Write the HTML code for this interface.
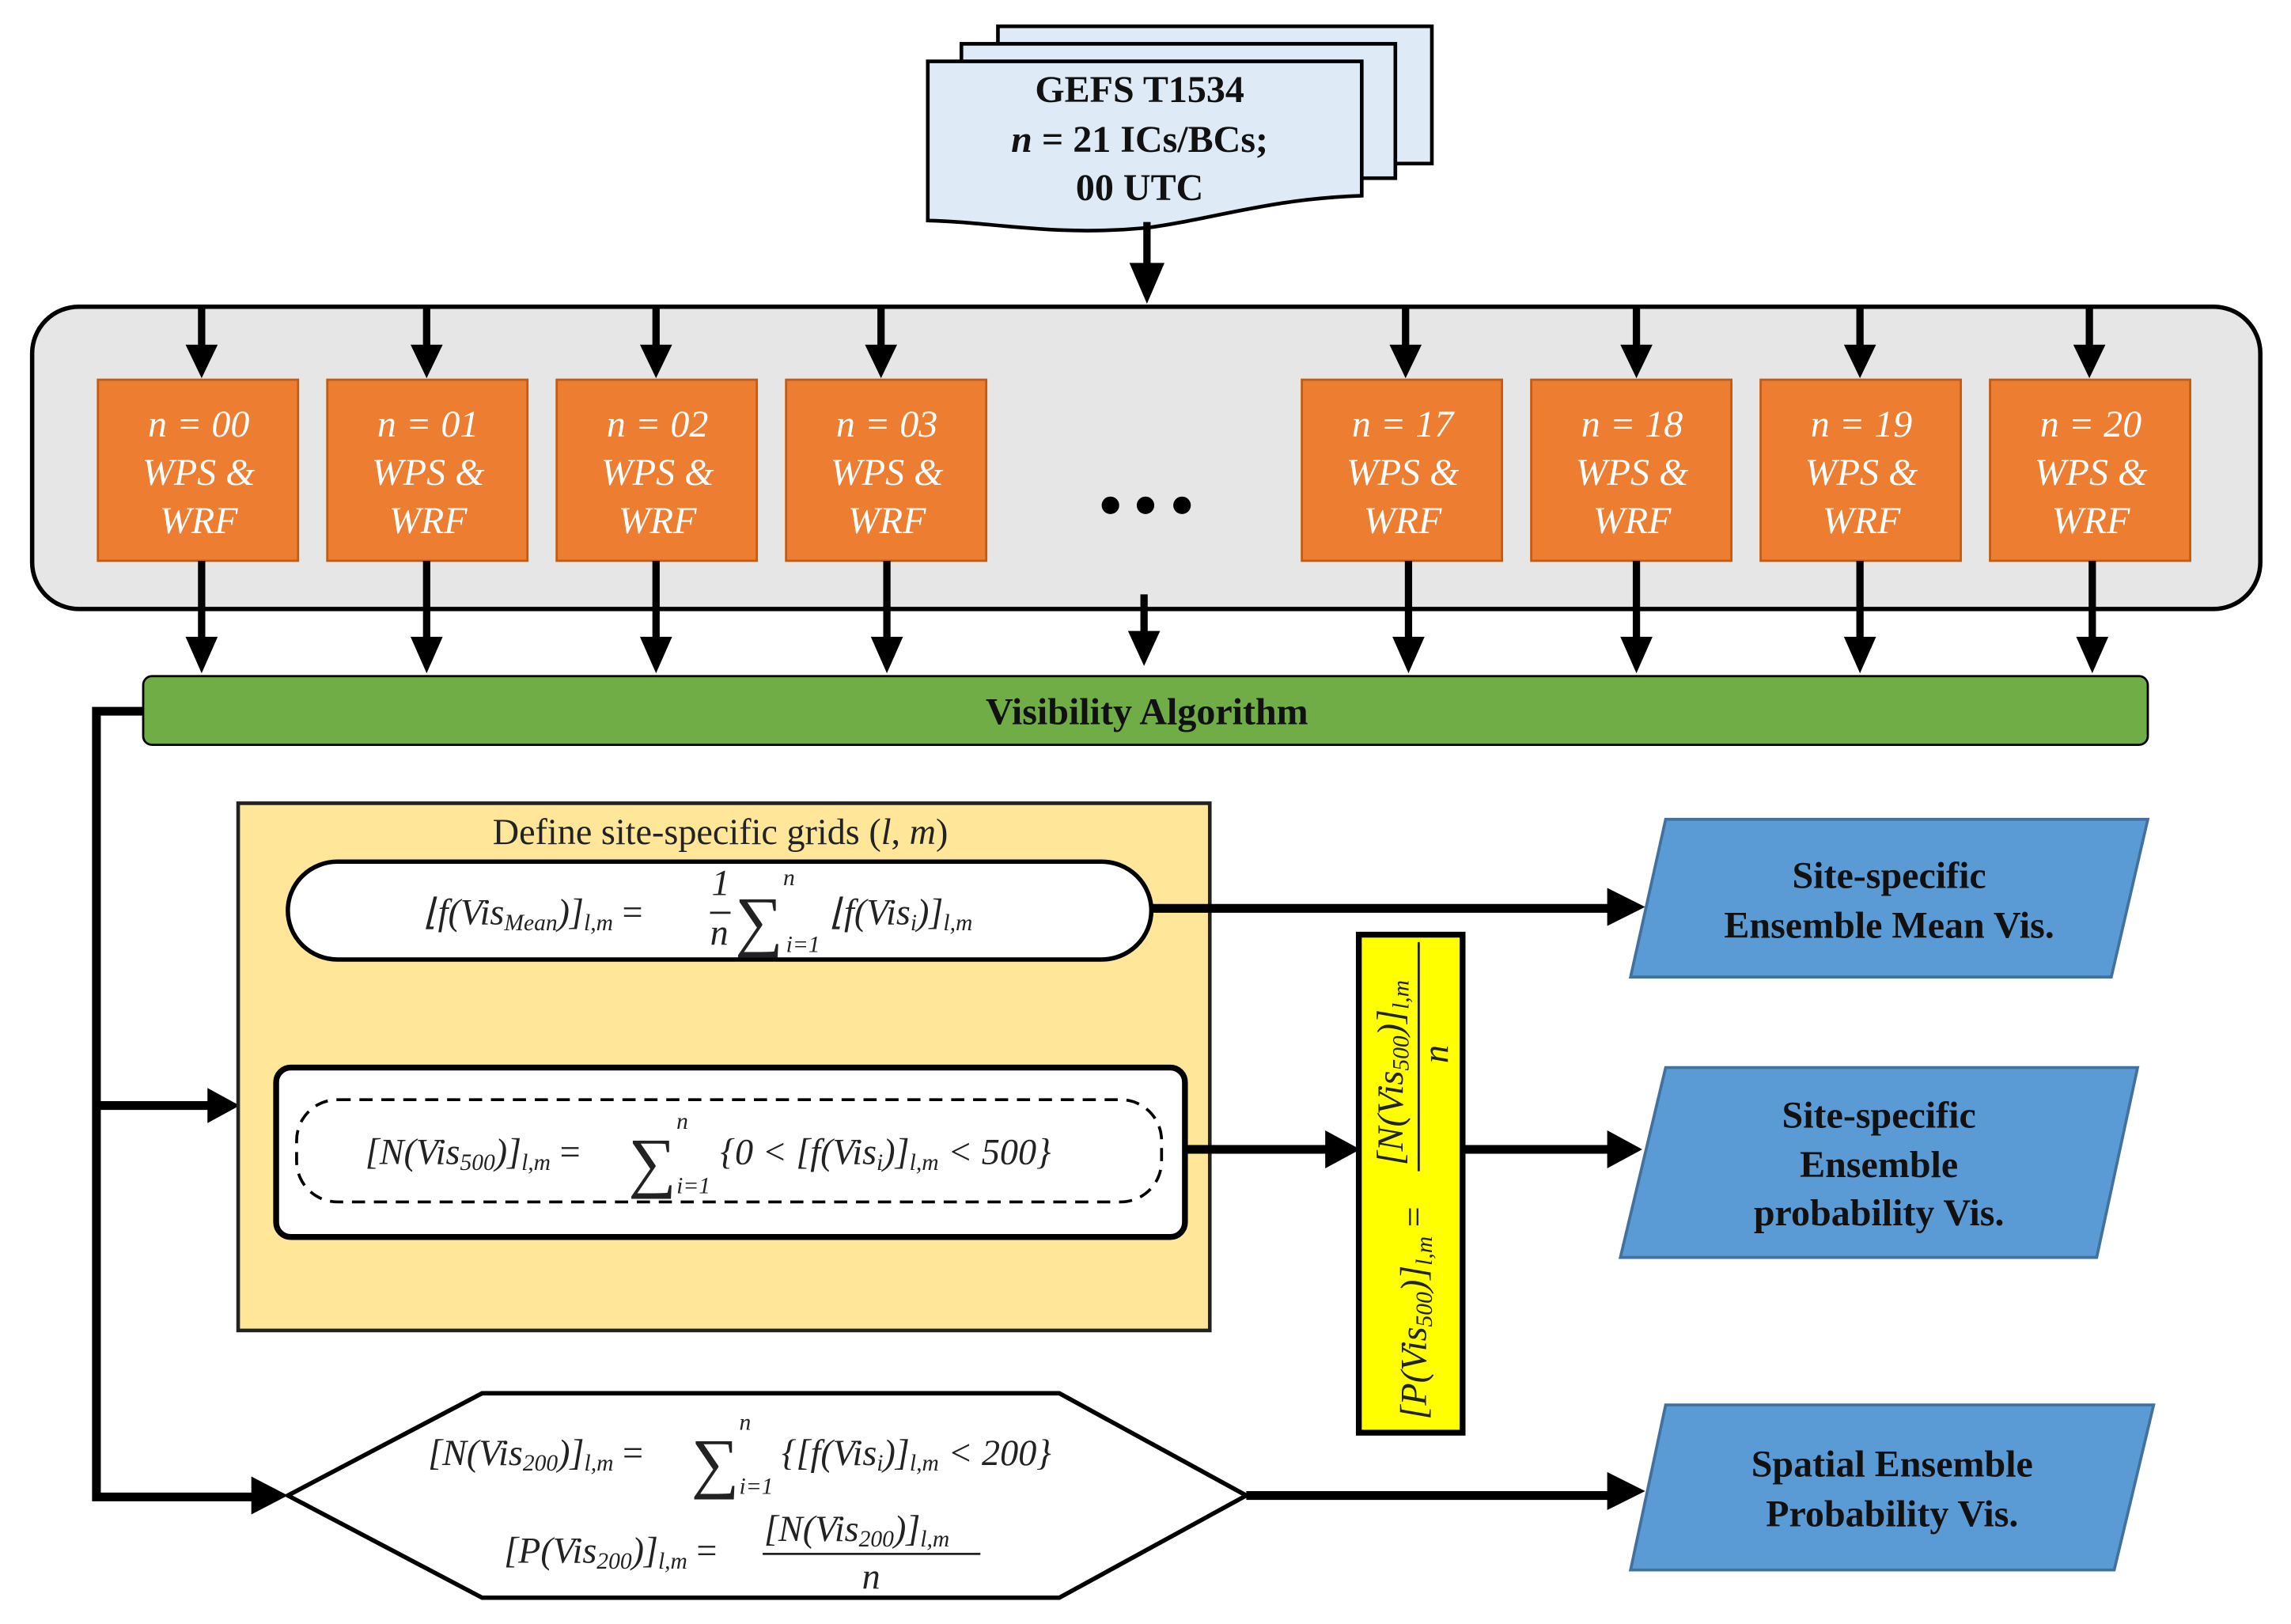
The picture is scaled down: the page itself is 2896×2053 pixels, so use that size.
<!DOCTYPE html>
<html><head><meta charset="utf-8"><style>
html,body{margin:0;padding:0;background:#fff;}
svg{display:block;}
text{font-family:"Liberation Serif",serif;}
.m{font-style:italic;font-size:25px;fill:#222;}
.s{font-size:16px;}
</style></head><body>
<svg width="2896" height="2053" viewBox="0 0 1568 1112" preserveAspectRatio="none" xmlns="http://www.w3.org/2000/svg">
<rect x="683" y="18" width="297" height="94" fill="#deebf7" stroke="#000" stroke-width="2.5"/>
<rect x="658" y="30" width="297" height="92" fill="#deebf7" stroke="#000" stroke-width="2.5"/>
<path d="M635,42 L932,42 L932,134 C870,136 830,150 785,156 C720,162 680,152 635,151 Z" fill="#deebf7" stroke="#000" stroke-width="2.5"/>
<g font-weight="bold" font-size="26" text-anchor="middle" fill="#111">
<text x="780" y="70">GEFS T1534</text>
<text x="780" y="104"><tspan font-style="italic">n</tspan> = 21 ICs/BCs;</text>
<text x="780" y="137">00 UTC</text>
</g>
<rect x="22" y="210" width="1525" height="207" rx="32" fill="#e7e6e6" stroke="#000" stroke-width="3"/>
<g stroke="#000" stroke-width="5">
<line x1="785" y1="152" x2="785" y2="190"/>
</g>
<path d="M773,180 L797,180 L785,208 Z" fill="#000"/>
<g fill="#ed7d31" stroke="#c55a11" stroke-width="1.5">
<rect x="67" y="260" width="137" height="124"/><rect x="224" y="260" width="137" height="124"/>
<rect x="381" y="260" width="137" height="124"/><rect x="538" y="260" width="137" height="124"/>
<rect x="891" y="260" width="137" height="124"/><rect x="1048" y="260" width="137" height="124"/>
<rect x="1205" y="260" width="137" height="124"/><rect x="1362" y="260" width="137" height="124"/>
</g>
<g fill="#fff" font-style="italic" font-size="26" text-anchor="middle">
<text x="136" y="299">n = 00</text><text x="136" y="332">WPS &amp;</text><text x="136" y="365">WRF</text>
<text x="293" y="299">n = 01</text><text x="293" y="332">WPS &amp;</text><text x="293" y="365">WRF</text>
<text x="450" y="299">n = 02</text><text x="450" y="332">WPS &amp;</text><text x="450" y="365">WRF</text>
<text x="607" y="299">n = 03</text><text x="607" y="332">WPS &amp;</text><text x="607" y="365">WRF</text>
<text x="960" y="299">n = 17</text><text x="960" y="332">WPS &amp;</text><text x="960" y="365">WRF</text>
<text x="1117" y="299">n = 18</text><text x="1117" y="332">WPS &amp;</text><text x="1117" y="365">WRF</text>
<text x="1274" y="299">n = 19</text><text x="1274" y="332">WPS &amp;</text><text x="1274" y="365">WRF</text>
<text x="1431" y="299">n = 20</text><text x="1431" y="332">WPS &amp;</text><text x="1431" y="365">WRF</text>
</g>
<circle cx="760" cy="346" r="6" fill="#000"/><circle cx="784" cy="346" r="6" fill="#000"/><circle cx="809" cy="346" r="6" fill="#000"/>
<g stroke="#000" stroke-width="5">
<line x1="138" y1="210" x2="138" y2="240"/><line x1="292" y1="210" x2="292" y2="240"/>
<line x1="449" y1="210" x2="449" y2="240"/><line x1="603" y1="210" x2="603" y2="240"/>
<line x1="962" y1="210" x2="962" y2="240"/><line x1="1120" y1="210" x2="1120" y2="240"/>
<line x1="1273" y1="210" x2="1273" y2="240"/><line x1="1430" y1="210" x2="1430" y2="240"/>
<line x1="138" y1="384" x2="138" y2="440"/><line x1="292" y1="384" x2="292" y2="440"/>
<line x1="449" y1="384" x2="449" y2="440"/><line x1="607" y1="384" x2="607" y2="440"/>
<line x1="783" y1="407" x2="783" y2="436"/>
<line x1="964" y1="384" x2="964" y2="440"/><line x1="1120" y1="384" x2="1120" y2="440"/>
<line x1="1273" y1="384" x2="1273" y2="440"/><line x1="1432" y1="384" x2="1432" y2="440"/>
</g>
<g fill="#000">
<path d="M127,236 h22 l-11,23z"/><path d="M281,236 h22 l-11,23z"/><path d="M438,236 h22 l-11,23z"/><path d="M592,236 h22 l-11,23z"/>
<path d="M951,236 h22 l-11,23z"/><path d="M1109,236 h22 l-11,23z"/><path d="M1262,236 h22 l-11,23z"/><path d="M1419,236 h22 l-11,23z"/>
<path d="M127,436 h22 l-11,25z"/><path d="M281,436 h22 l-11,25z"/><path d="M438,436 h22 l-11,25z"/><path d="M596,436 h22 l-11,25z"/>
<path d="M772,432 h22 l-11,24z"/>
<path d="M953,436 h22 l-11,25z"/><path d="M1109,436 h22 l-11,25z"/><path d="M1262,436 h22 l-11,25z"/><path d="M1421,436 h22 l-11,25z"/>
</g>
<rect x="98" y="463" width="1372" height="47" rx="6" fill="#70ad47" stroke="#000" stroke-width="1.5"/>
<text x="785" y="496" text-anchor="middle" font-weight="bold" font-size="26" fill="#111">Visibility Algorithm</text>
<path d="M98,487 H66 V1025 H180 M66,757 H150" stroke="#000" stroke-width="6" fill="none"/>
<path d="M142,745 L164,757 L142,769Z" fill="#000"/>
<path d="M172,1011 L197,1024 L172,1037Z" fill="#000"/>
<rect x="163" y="550" width="665" height="361" fill="#ffe699" stroke="#222" stroke-width="2.5"/>
<text x="493" y="578" text-anchor="middle" font-size="25" fill="#222">Define site-specific grids (<tspan font-style="italic">l</tspan>, <tspan font-style="italic">m</tspan>)</text>
<rect x="197" y="590" width="591" height="67" rx="34" fill="#fff" stroke="#000" stroke-width="3"/>
<text class="m" x="290" y="633">⌊f(Vis<tspan class="s" dy="4">Mean</tspan><tspan dy="-4">)]</tspan><tspan class="s" dy="4">l,m</tspan><tspan dy="-4" font-style="normal"> = </tspan></text>
<text class="m" x="487" y="613" font-style="normal">1</text>
<line x1="486" y1="625" x2="500" y2="625" stroke="#222" stroke-width="1.5"/>
<text class="m" x="486" y="647">n</text>
<text x="503" y="646" font-size="46" fill="#222">∑</text>
<text class="m s" x="536" y="606">n</text>
<text class="m s" x="538" y="652">i=1</text>
<text class="m" x="568" y="633">⌊f(Vis<tspan class="s" dy="4">i</tspan><tspan dy="-4">)]</tspan><tspan class="s" dy="4">l,m</tspan></text>
<rect x="189" y="731" width="622" height="116" rx="10" fill="#fff" stroke="#000" stroke-width="4"/>
<rect x="203" y="753" width="592" height="70" rx="28" fill="none" stroke="#000" stroke-width="2" stroke-dasharray="9,6"/>
<text class="m" x="250" y="797">[N(Vis<tspan class="s" dy="4">500</tspan><tspan dy="-4">)]</tspan><tspan class="s" dy="4">l,m</tspan><tspan dy="-4" font-style="normal"> = </tspan></text>
<text x="430" y="811" font-size="46" fill="#222">∑</text>
<text class="m s" x="463" y="773">n</text>
<text class="m s" x="463" y="817">i=1</text>
<text class="m" x="493" y="797">{0 &lt; [f(Vis<tspan class="s" dy="4">i</tspan><tspan dy="-4">)]</tspan><tspan class="s" dy="4">l,m</tspan><tspan dy="-4"> &lt; 500}</tspan></text>
<path d="M788,622 H1105" stroke="#000" stroke-width="6"/>
<path d="M1100,608 L1126,621 L1100,634Z" fill="#000"/>
<path d="M811,787 H912" stroke="#000" stroke-width="6"/>
<path d="M907,774 L931,787 L907,800Z" fill="#000"/>
<path d="M1001,787 H1105" stroke="#000" stroke-width="6"/>
<path d="M1100,774 L1124,787 L1100,800Z" fill="#000"/>
<rect x="930" y="640" width="71" height="341" fill="#ffff00" stroke="#000" stroke-width="4"/>
<g transform="translate(966,810) rotate(-90)">
<text class="m" x="-162" y="10" font-size="22">[P(Vis<tspan class="s" dy="4">500</tspan><tspan dy="-4">)]</tspan><tspan class="s" dy="4">l,m</tspan><tspan dy="-4" font-style="normal"> = </tspan></text>
<text class="m" x="12" y="-6" font-size="22">[N(Vis<tspan class="s" dy="4">500</tspan><tspan dy="-4">)]</tspan><tspan class="s" dy="4">l,m</tspan></text>
<line x1="8" y1="5" x2="165" y2="5" stroke="#222" stroke-width="1.5"/>
<text class="m" x="82" y="25" font-size="20">n</text>
</g>
<path d="M197,1024 L330,954 L725,954 L853,1024 L725,1094 L330,1094 Z" fill="#fff" stroke="#000" stroke-width="3"/>
<text class="m" x="293" y="1003">[N(Vis<tspan class="s" dy="4">200</tspan><tspan dy="-4">)]</tspan><tspan class="s" dy="4">l,m</tspan><tspan dy="-4" font-style="normal"> = </tspan></text>
<text x="473" y="1017" font-size="46" fill="#222">∑</text>
<text class="m s" x="506" y="979">n</text>
<text class="m s" x="506" y="1023">i=1</text>
<text class="m" x="535" y="1003">{[f(Vis<tspan class="s" dy="4">i</tspan><tspan dy="-4">)]</tspan><tspan class="s" dy="4">l,m</tspan><tspan dy="-4"> &lt; 200}</tspan></text>
<text class="m" x="345" y="1070">[P(Vis<tspan class="s" dy="4">200</tspan><tspan dy="-4">)]</tspan><tspan class="s" dy="4">l,m</tspan><tspan dy="-4" font-style="normal"> = </tspan></text>
<text class="m" x="523" y="1055">[N(Vis<tspan class="s" dy="4">200</tspan><tspan dy="-4">)]</tspan><tspan class="s" dy="4">l,m</tspan></text>
<line x1="522" y1="1064" x2="671" y2="1064" stroke="#222" stroke-width="1.5"/>
<text class="m" x="590" y="1088">n</text>
<path d="M853,1024 H1105" stroke="#000" stroke-width="6"/>
<path d="M1100,1008 L1126,1021 L1100,1034Z" fill="#000"/>
<g fill="#5b9bd5" stroke="#41719c" stroke-width="2">
<path d="M1140,561 L1470,561 L1445,669 L1116,669Z"/>
<path d="M1140,731 L1463,731 L1435,861 L1109,861Z"/>
<path d="M1140,962 L1474,962 L1447,1075 L1116,1075Z"/>
</g>
<g font-weight="bold" font-size="26" text-anchor="middle" fill="#111">
<text x="1293" y="608">Site-specific</text><text x="1293" y="642">Ensemble Mean Vis.</text>
<text x="1286" y="772">Site-specific</text><text x="1286" y="806">Ensemble</text><text x="1286" y="839">probability Vis.</text>
<text x="1295" y="1011">Spatial Ensemble</text><text x="1295" y="1045">Probability Vis.</text>
</g>
</svg>
</body></html>
